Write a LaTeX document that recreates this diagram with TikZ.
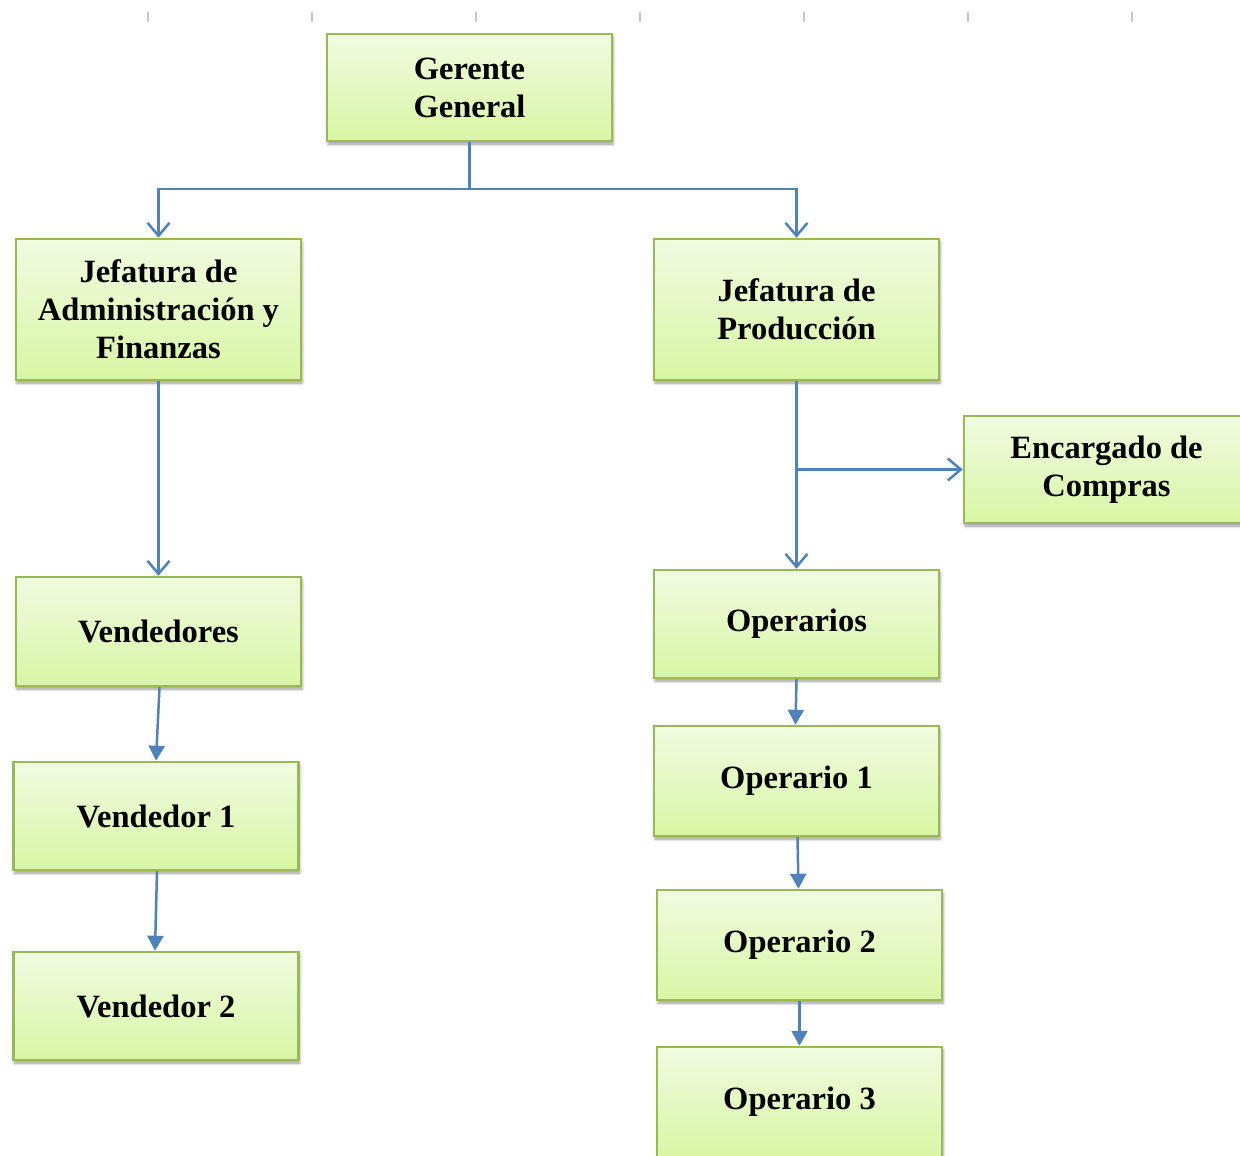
\documentclass[tikz,border=0pt]{standalone}
\usepackage{fontspec}
\setmainfont{Liberation Serif}
\usetikzlibrary{arrows.meta,shadows.blur}
\definecolor{boxtop}{HTML}{F0FBE0}
\definecolor{boxbot}{HTML}{D8F6A4}
\definecolor{boxline}{HTML}{98B954}
\definecolor{conncol}{HTML}{4F81BD}
\tikzset{
  orgbox/.style={draw=boxline, line width=2.5pt, top color=boxtop, bottom color=boxbot,
    align=center, inner sep=0pt, minimum width=285pt,
    font=\fontsize{32.5}{38}\selectfont\bfseries,
    blur shadow={shadow xshift=1pt, shadow yshift=-3pt, shadow blur radius=3pt, shadow opacity=40}},
  conn/.style={draw=conncol, line width=2.5pt},
  openarr/.style={conn, -{Straight Barb[length=13pt,width=22pt]}},
  fillarr/.style={conn, -{Triangle[length=15pt,width=16pt]}},
  tick/.style={draw=black!22, line width=1.5pt}
}
\begin{document}
\begin{tikzpicture}[x=1pt,y=-1pt]
\useasboundingbox (0,0) rectangle (1240,1156);
% ruler ticks
\foreach \tx in {148,312,476,640,804,968,1132}{
  \draw[tick] (\tx,12) -- (\tx,22);
}
% nodes
\node[orgbox, minimum height=107pt] (gg) at (469.5,87.5) {Gerente\\General};
\node[orgbox, minimum height=141pt] (jadm) at (158.5,309.5) {Jefatura de\\Administración y\\Finanzas};
\node[orgbox, minimum height=141pt] (jprod) at (796.5,309.5) {Jefatura de\\Producción};
\node[orgbox, minimum height=107pt] (enc) at (1106.5,469.5) {Encargado de\\Compras};
\node[orgbox, minimum height=109pt] (vend) at (158.5,631.5) {Vendedores};
\node[orgbox, minimum height=108pt] (v1) at (156,816) {Vendedor 1};
\node[orgbox, minimum height=108pt] (v2) at (156,1006) {Vendedor 2};
\node[orgbox, minimum height=108pt] (ops) at (796.5,624) {Operarios};
\node[orgbox, minimum height=110pt] (o1) at (796.5,781) {Operario 1};
\node[orgbox, minimum height=110pt] (o2) at (799.5,945) {Operario 2};
\node[orgbox, minimum height=110pt] (o3) at (799.5,1102) {Operario 3};
% connectors
\coordinate (split) at (gg.south |- 0,189);
\draw[conn] (gg.south) -- (split);
\draw[openarr] (split) -| (jadm.north);
\draw[openarr] (split) -| (jprod.north);
\draw[openarr] (jadm.south) -- (vend.north);
\draw[openarr] (jprod.south) -- (ops.north);
\coordinate (branch) at (jprod.south |- enc.west);
\draw[openarr] (branch) -- (enc.west);
\draw[fillarr] ([xshift=1pt]vend.south) -- (v1.north);
\draw[fillarr] ([xshift=1pt]v1.south) -- ([xshift=-1pt]v2.north);
\draw[fillarr] (ops.south) -- ([xshift=-1pt]o1.north);
\draw[fillarr] ([xshift=1pt]o1.south) -- ([xshift=-1pt]o2.north);
\draw[fillarr] (o2.south) -- (o3.north);
\end{tikzpicture}
\end{document}
